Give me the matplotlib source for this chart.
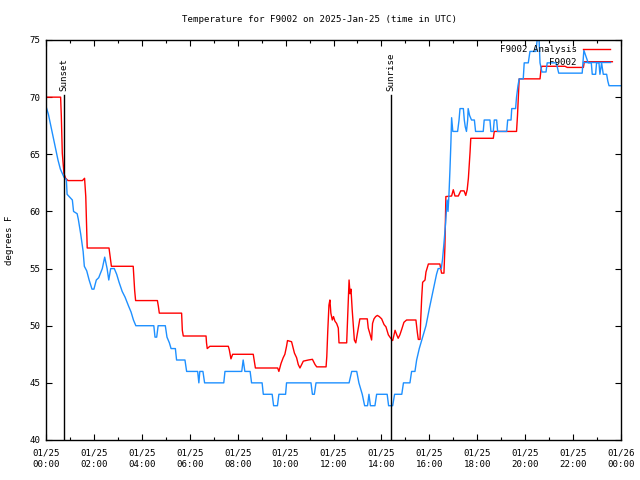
import numpy as np
import matplotlib
matplotlib.use('Agg')
import matplotlib.pyplot as plt
import matplotlib.transforms as mtransforms

# hours (UTC) since 2025-01-25 00:00, temperature in degrees F
obs_hours = [0.0, 0.1, 0.2, 0.3, 0.4, 0.5, 0.6, 0.75, 0.85, 0.88, 1.1, 1.15, 1.3, 1.35, 1.45,
             1.55, 1.6, 1.7, 1.8, 1.92, 2.0, 2.1, 2.2, 2.35, 2.45, 2.55, 2.62, 2.7, 2.85, 2.95,
             3.05, 3.18, 3.3, 3.45, 3.55, 3.65, 3.75, 4.5, 4.55, 4.62, 4.68, 4.98, 5.05, 5.15,
             5.22, 5.4, 5.45, 5.8, 5.87, 6.33, 6.38, 6.42, 6.55, 6.62, 7.42, 7.47, 8.17, 8.23,
             8.3, 8.52, 8.58, 9.02, 9.07, 9.44, 9.5, 9.66, 9.72, 10.0, 10.04, 11.06, 11.12, 11.2,
             11.27, 12.65, 12.76, 12.97, 13.06, 13.2, 13.3, 13.42, 13.48, 13.54, 13.73, 13.8,
             14.24, 14.3, 14.47, 14.55, 14.85, 14.92, 15.19, 15.26, 15.4, 15.47, 15.58, 15.72,
             15.86, 16.0, 16.15, 16.3, 16.37, 16.5, 16.55, 16.61, 16.68, 16.72, 16.74, 16.78,
             16.82, 16.86, 16.9, 16.93, 16.98, 17.18, 17.24, 17.28, 17.42, 17.46, 17.5, 17.55,
             17.6, 17.62, 17.68, 17.76, 17.88, 17.93, 18.25, 18.29, 18.53, 18.57, 18.67, 18.71,
             18.81, 18.85, 19.23, 19.27, 19.41, 19.44, 19.6, 19.64, 19.7, 19.75, 19.92, 19.96,
             20.13, 20.2, 20.45, 20.5, 20.58, 20.62, 20.7, 20.87, 20.92, 21.3, 21.4, 22.38, 22.45,
             22.55, 22.63, 22.76, 22.8, 22.94, 22.98, 23.08, 23.12, 23.19, 23.26, 23.4, 23.45,
             23.5, 24.0]
obs_temp = [69.2, 68.5, 67.5, 66.5, 65.5, 64.5, 63.7, 63.0, 62.8, 61.5, 61.0, 60.0, 59.8, 59.3, 58.0,
            56.5, 55.2, 54.8, 54.0, 53.2, 53.2, 54.0, 54.2, 55.0, 56.0, 55.0, 54.0, 55.0, 55.0, 54.5,
            53.8, 53.0, 52.5, 51.7, 51.2, 50.5, 50.0, 50.0, 49.0, 49.0, 50.0, 50.0, 49.0, 48.5,
            48.0, 48.0, 47.0, 47.0, 46.0, 46.0, 45.0, 46.0, 46.0, 45.0, 45.0, 46.0, 46.0, 47.0,
            46.0, 46.0, 45.0, 45.0, 44.0, 44.0, 43.0, 43.0, 44.0, 44.0, 45.0, 45.0, 44.0, 44.0,
            45.0, 45.0, 46.0, 46.0, 45.0, 44.0, 43.0, 43.0, 44.0, 43.0, 43.0, 44.0,
            44.0, 43.0, 43.0, 44.0, 44.0, 45.0, 45.0, 46.0, 46.0, 47.0, 48.0, 49.0,
            50.0, 51.5, 53.0, 54.5, 55.0, 55.0, 55.8, 57.2, 59.0, 60.4, 61.0, 60.0,
            61.5, 63.6, 66.0, 68.2, 67.0, 67.0, 68.0, 69.0, 69.0, 68.0, 67.4, 67.0,
            68.0, 69.0, 68.4, 68.0, 68.0, 67.0, 67.0, 68.0, 68.0, 67.0, 67.0, 68.0,
            68.0, 67.0, 67.0, 68.0, 68.0, 69.0, 69.0, 70.0, 71.0, 71.6, 71.6, 73.0,
            73.0, 74.0, 74.0, 75.0, 75.0, 73.0, 72.2, 72.2, 73.0, 73.0, 72.1, 72.1, 74.1,
            73.5, 73.0, 73.0, 72.0, 72.0, 73.0, 73.0, 72.0, 73.0, 72.0, 72.0, 71.4,
            71.0, 71.0]

ana_hours = [0.0, 0.61, 0.64, 0.68, 0.75, 0.82, 0.92, 1.52, 1.61, 1.66, 1.7, 1.72, 2.63, 2.68, 2.73,
             3.64, 3.7, 3.74, 4.65, 4.69, 4.73, 5.66, 5.69, 5.73, 6.68, 6.7, 6.73, 6.84, 6.92, 7.61,
             7.65, 7.72, 7.79, 8.65, 8.68, 8.74, 9.67, 9.72, 9.81, 9.9, 9.97, 10.04, 10.08, 10.25,
             10.37, 10.46, 10.53, 10.6, 10.74, 10.95, 11.12, 11.23, 11.3, 11.69, 11.72, 11.76,
             11.81, 11.85, 11.89, 11.95, 12.0, 12.06, 12.13, 12.2, 12.23, 12.55, 12.59, 12.65,
             12.69, 12.73, 12.78, 12.83, 12.87, 12.93, 12.97, 13.04, 13.1, 13.41, 13.45, 13.52,
             13.59, 13.63, 13.69, 13.76, 13.83, 13.91, 14.01, 14.11, 14.19, 14.29, 14.39, 14.47,
             14.57, 14.64, 14.7, 14.77, 14.85, 14.94, 15.05, 15.44, 15.5, 15.54, 15.61, 15.64,
             15.68, 15.72, 15.82, 15.86, 15.96, 16.44, 16.51, 16.61, 16.65, 16.69, 16.93, 17.0,
             17.07, 17.21, 17.31, 17.45, 17.52, 17.58, 17.63, 17.7, 17.73, 18.67, 18.71, 19.64,
             19.68, 19.72, 19.75, 20.62, 20.66, 20.69, 21.66, 21.76, 22.43, 22.47, 23.64]
ana_temp = [70.0, 70.0, 68.3, 65.1, 63.3, 62.9, 62.7, 62.7, 62.9, 61.3, 58.4, 56.8, 56.8, 56.0, 55.2,
            55.2, 53.1, 52.2, 52.2, 51.7, 51.1, 51.1, 49.6, 49.1, 49.1, 48.5, 48.0, 48.2, 48.2, 48.2,
            47.9, 47.1, 47.5, 47.5, 47.1, 46.3, 46.3, 46.0, 46.7, 47.2, 47.5, 48.2, 48.7, 48.6,
            47.6, 47.2, 46.6, 46.3, 46.9, 47.0, 47.06, 46.6, 46.4, 46.4, 47.3, 49.5,
            51.8, 52.25, 51.1, 50.5, 50.8, 50.4, 50.2, 49.8, 48.5, 48.5, 50.8, 54.0,
            52.8, 53.2, 51.4, 49.9, 48.75, 48.5, 49.0, 49.9, 50.6, 50.6, 49.8, 49.3,
            48.75, 50.2, 50.6, 50.8, 50.9, 50.8, 50.6, 50.1, 49.9, 49.2, 48.9, 48.7,
            49.6, 49.2, 48.9, 49.2, 49.7, 50.3, 50.5, 50.5, 49.4, 48.8, 48.8, 50.5,
            52.4, 53.8, 54.0, 54.7, 55.4, 55.4, 54.6, 54.6, 56.9, 61.3, 61.35, 61.9,
            61.35, 61.35, 61.8, 61.8, 61.4, 61.9, 62.9, 65.2, 66.4, 66.4, 67.0, 67.0,
            68.4, 70.3, 71.6, 71.6, 72.4, 72.7, 72.7, 72.6, 72.6, 73.1, 73.1]

sunset_h = 0.75
sunrise_h = 14.4
tick_hours = list(range(0, 25, 2))
tick_labels = ['01/25\n%02d:00' % h for h in range(0, 24, 2)] + ['01/26\n00:00']

plt.rcParams['font.family'] = 'DejaVu Sans Mono'
fs = 6.6

fig = plt.figure(figsize=(6.4, 4.8), dpi=100)
ax = fig.add_axes([46 / 640, 40 / 480, 575 / 640, 400 / 480])

ax.plot(ana_hours, ana_temp, color='#ff0000', lw=1.0, label='F9002 Analysis')
ax.plot(obs_hours, obs_temp, color='#1e90ff', lw=1.0, label='F9002')

trans = mtransforms.blended_transform_factory(ax.transData, ax.transAxes)
for h, name in [(sunset_h, 'Sunset'), (sunrise_h, 'Sunrise')]:
    ax.axvline(h, ymin=0, ymax=0.8625, color='black', lw=1.0)
    ax.text(h, 0.872, name, transform=trans, rotation=90, ha='center', va='bottom', fontsize=fs)

ax.set_xlim(0, 24)
ax.set_ylim(40, 75)
ax.set_xticks(tick_hours)
ax.set_xticklabels(tick_labels, fontsize=fs, linespacing=1.35)
ax.set_xticks(range(1, 24, 2), minor=True)
ax.set_yticks(range(40, 76, 5))
ax.tick_params(axis='y', labelsize=fs)
ax.tick_params(which='major', direction='in', length=4, width=0.8, top=True, right=True, pad=4)
ax.tick_params(which='minor', direction='in', length=2, width=0.8, top=True, right=True)
ax.tick_params(axis='x', which='major', pad=6)
for s in ax.spines.values():
    s.set_linewidth(1.0)

ax.legend(loc='upper right', bbox_to_anchor=(564 / 575, 0.9875), markerfirst=False,
          frameon=False, fontsize=fs, handlelength=2.9, handletextpad=0.75,
          labelspacing=0.45, borderpad=0.0, borderaxespad=0.0)

fig.text(0.5, 1 - 19 / 480, 'Temperature for F9002 on 2025-Jan-25 (time in UTC)',
         ha='center', va='center', fontsize=fs)
fig.text(10 / 640, 0.5, 'degrees F', rotation=90, ha='center', va='center', fontsize=fs)

fig.savefig('out.png', dpi=100)
